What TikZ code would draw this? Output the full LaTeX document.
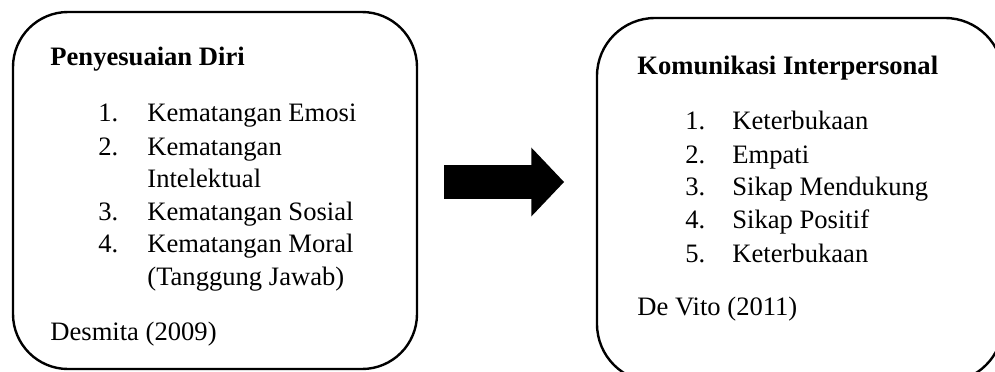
\documentclass[tikz,border=0pt]{standalone}
\usepackage{fontspec}
\setmainfont{Liberation Serif}
\usepackage{tikz}
\usetikzlibrary{positioning, shapes.arrows}
\tikzset{
    panel/.style={draw=black, line width=1.2pt, rectangle, rounded corners=#1},
    panel/.default=27.5pt,
    item/.style={anchor=base west, inner sep=0pt, font=\fontsize{13.3}{17}\selectfont},
    heading/.style={item, font=\fontsize{13.3}{17}\selectfont\bfseries},
    blockarrow/.style={single arrow, fill=black, draw=none, minimum height=60pt,
        minimum width=34pt, single arrow head extend=8.75pt, single arrow tip angle=93,
        inner sep=8.25pt}
}

\begin{document}
\begin{tikzpicture}[x=0.5pt, y=-0.5pt]
\useasboundingbox (0,0) rectangle (995,371);

% --- Left panel ---
\node[panel, minimum width=202pt, minimum height=178.5pt] (diri) at (215,190.5) {};
\node[heading] (diriT) at (50,65) {Penyesuaian Diri};
\node[item] (d1n) at (98,121) {1.};
\node[item] (d1) at (147,121) {Kematangan Emosi};
\node[item] (d2n) at (98,155) {2.};
\node[item] (d2) at (147,155) {Kematangan};
\node[item] (d2b) at (147,187) {Intelektual};
\node[item] (d3n) at (98,220) {3.};
\node[item] (d3) at (147,220) {Kematangan Sosial};
\node[item] (d4n) at (98,252) {4.};
\node[item] (d4) at (147,252) {Kematangan Moral};
\node[item] (d4b) at (147,285) {(Tanggung Jawab)};
\node[item] (diriS) at (50,340) {Desmita (2009)};

% --- Block arrow ---
\node[blockarrow] (panah) at (496,182) {};

% --- Right panel ---
\node[panel=29pt, minimum width=203pt, minimum height=182pt] (komunikasi) at (800,200) {};
\node[heading] (komT) at (637,74) {Komunikasi Interpersonal};
\node[item] (k1n) at (685,129) {1.};
\node[item] (k1) at (732,129) {Keterbukaan};
\node[item] (k2n) at (685,163) {2.};
\node[item] (k2) at (732,163) {Empati};
\node[item] (k3n) at (685,195) {3.};
\node[item] (k3) at (732,195) {Sikap Mendukung};
\node[item] (k4n) at (685,228) {4.};
\node[item] (k4) at (732,228) {Sikap Positif};
\node[item] (k5n) at (685,262) {5.};
\node[item] (k5) at (732,262) {Keterbukaan};
\node[item] (komS) at (637,315) {De Vito (2011)};

\end{tikzpicture}
\end{document}
